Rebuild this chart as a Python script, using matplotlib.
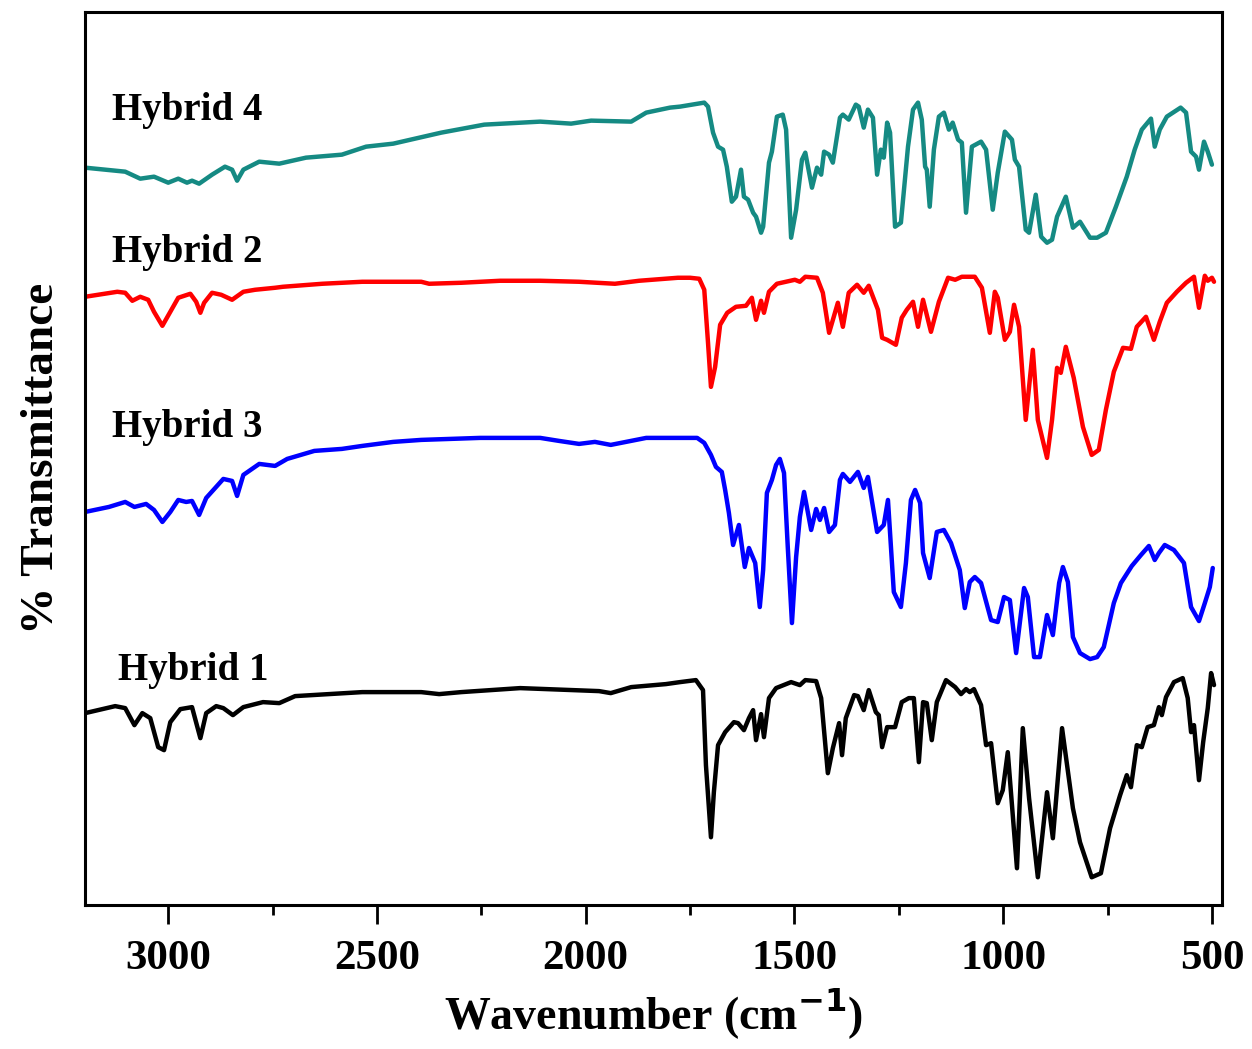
import matplotlib
matplotlib.use("Agg")
import matplotlib.pyplot as plt
from matplotlib.ticker import MultipleLocator

plt.rcParams['font.family'] = ['Liberation Serif', 'DejaVu Serif']
plt.rcParams['font.weight'] = 'bold'

# FTIR spectra, wavenumber (cm-1) vs transmittance (arbitrary units, curves stacked)
h4_wn = [3199, 3103, 3067, 3034, 3000, 2976, 2955, 2943, 2926, 2895, 2864, 2847, 2835, 2820,
         2782, 2734, 2670, 2584, 2526, 2461, 2346, 2243, 2109, 2035, 1987, 1891, 1855, 1798,
         1774, 1716, 1707, 1695, 1683, 1671, 1662, 1650, 1640, 1628, 1621, 1611, 1599, 1592,
         1580, 1575, 1561, 1554, 1542, 1528, 1520, 1508, 1496, 1482, 1474, 1458, 1446, 1436,
         1429, 1417, 1408, 1391, 1384, 1370, 1353, 1346, 1334, 1324, 1312, 1302, 1293, 1286,
         1278, 1271, 1259, 1245, 1228, 1216, 1204, 1195, 1187, 1183, 1176, 1166, 1154, 1142,
         1130, 1121, 1108, 1099, 1089, 1075, 1053, 1041, 1025, 1013, 996, 979, 972, 962, 946,
         938, 922, 909, 895, 883, 871, 850, 833, 816, 792, 775, 754, 730, 704, 685, 668, 646,
         637, 625, 608, 575, 562, 550, 538, 531, 519, 510, 500]
h4_t = [737, 733, 726, 728, 722, 726, 722, 724, 721, 730, 738, 735, 724, 735,
        743, 741, 747, 750, 758, 761, 772, 780, 783, 781, 784, 783, 792, 797,
        798, 802, 798, 772, 758, 755, 738, 703, 708, 735, 708, 705, 692, 688,
        672, 678, 742, 753, 788, 790, 775, 667, 695, 745, 752, 717, 737, 730,
        753, 750, 742, 787, 790, 785, 800, 798, 777, 795, 787, 730, 755, 747,
        782, 772, 678, 682, 758, 795, 802, 785, 738, 735, 698, 755, 788, 792,
        775, 782, 765, 762, 692, 758, 763, 755, 695, 732, 773, 765, 745, 738, 675,
        672, 710, 668, 662, 665, 688, 708, 677, 683, 667, 667, 672, 698, 728, 755, 775, 786,
        758, 775, 788, 797, 792, 753, 748, 735, 763, 753, 740]

h2_wn = [3199, 3122, 3103, 3086, 3067, 3048, 3034, 3014, 2995, 2976, 2947, 2933, 2923, 2914,
         2895, 2873, 2847, 2820, 2792, 2744, 2725, 2631, 2535, 2394, 2375, 2298, 2205, 2109,
         2016, 1930, 1872, 1779, 1750, 1728, 1716, 1707, 1700, 1690, 1678, 1661, 1640, 1616,
         1602, 1592, 1580, 1573, 1561, 1542, 1499, 1487, 1474, 1446, 1432, 1417, 1396, 1384,
         1370, 1350, 1334, 1322, 1300, 1290, 1278, 1257, 1243, 1231, 1216, 1204, 1192, 1173,
         1154, 1132, 1115, 1099, 1068, 1051, 1032, 1020, 1013, 996, 984, 974, 962, 946, 929,
         917, 895, 883, 871, 862, 850, 831, 809, 788, 771, 754, 735, 713, 694, 680, 658, 639,
         625, 608, 584, 562, 543, 531, 517, 510, 500, 495]
h2_t = [608, 613, 612, 604, 608, 605, 593, 579, 593, 607, 611, 603, 592, 602,
        612, 610, 605, 613, 615, 617, 618, 621, 623, 623, 621, 622, 624, 624,
        623, 621, 624, 627, 627, 626, 615, 562, 518, 538, 580, 592, 598, 599,
        607, 585, 604, 592, 613, 621, 625, 623, 628, 627, 612, 572, 602, 578,
        612, 620, 612, 619, 595, 567, 565, 560, 587, 595, 603, 578, 605, 573,
        603, 627, 625, 628, 628, 617, 572, 613, 607, 565, 573, 600, 578, 485, 555,
        485, 447, 485, 537, 532, 558, 527, 478, 450, 455, 495, 533, 557, 556, 578, 588, 565,
        583, 602, 613, 622, 628, 597, 629, 624, 627, 623]

h3_wn = [3199, 3142, 3103, 3081, 3053, 3034, 3014, 2995, 2976, 2957, 2943, 2926, 2909, 2868,
         2847, 2835, 2820, 2782, 2744, 2715, 2650, 2584, 2535, 2461, 2394, 2253, 2109, 2064,
         2016, 1978, 1940, 1855, 1779, 1733, 1716, 1700, 1688, 1674, 1666, 1657, 1647, 1633,
         1619, 1609, 1594, 1583, 1575, 1566, 1554, 1544, 1535, 1525, 1516, 1506, 1496, 1487,
         1477, 1460, 1448, 1439, 1429, 1417, 1403, 1391, 1384, 1367, 1348, 1334, 1324, 1312,
         1302, 1286, 1276, 1262, 1245, 1233, 1221, 1211, 1199, 1192, 1176, 1159, 1142, 1125,
         1104, 1092, 1080, 1068, 1053, 1029, 1013, 998, 984, 969, 950, 941, 926, 912, 895,
         881, 866, 857, 845, 833, 816, 792, 775, 759, 735, 718, 692, 670, 651, 637, 627, 613,
         591, 567, 550, 531, 517, 505, 498]
h3_t = [393, 398, 403, 398, 401, 395, 383, 393, 405, 403, 404, 390, 407, 426,
        424, 409, 430, 441, 439, 446, 454, 456, 459, 463, 465, 467, 467, 464,
        461, 463, 460, 467, 467, 467, 462, 450, 438, 433, 415, 392, 360, 380,
        338, 357, 342, 298, 335, 412, 425, 440, 446, 432, 358, 282, 348, 388,
        413, 375, 396, 385, 397, 373, 380, 425, 431, 423, 433, 417, 428, 398,
        373, 380, 405, 313, 298, 342, 405, 415, 402, 352, 327, 373, 375, 362,
        335, 297, 323, 328, 322, 285, 283, 308, 305, 252, 317, 308, 248, 248, 290,
        270, 322, 338, 323, 268, 252, 246, 248, 258, 302, 322, 339, 350, 359, 345, 352, 360,
        355, 342, 298, 284, 302, 318, 337]

h1_wn = [3199, 3127, 3103, 3081, 3062, 3043, 3024, 3010, 2995, 2971, 2943, 2923, 2909, 2885,
         2868, 2845, 2820, 2773, 2734, 2696, 2535, 2394, 2351, 2298, 2157, 1968, 1940, 1891,
         1808, 1774, 1755, 1736, 1719, 1712, 1700, 1693, 1683, 1666, 1645, 1635, 1621, 1609,
         1599, 1592, 1580, 1573, 1561, 1544, 1508, 1487, 1474, 1448, 1436, 1420, 1408, 1393,
         1386, 1377, 1357, 1348, 1334, 1322, 1305, 1298, 1290, 1278, 1259, 1243, 1226, 1214,
         1202, 1192, 1183, 1171, 1159, 1137, 1115, 1101, 1089, 1080, 1070, 1053, 1041, 1029,
         1013, 1001, 989, 967, 953, 938, 917, 895, 881, 871, 859, 833, 816, 788, 766, 744,
         720, 704, 694, 680, 668, 654, 639, 627, 620, 610, 591, 570, 558, 550, 543, 531, 521,
         510, 502, 495]
h1_t = [192, 199, 197, 180, 192, 187, 158, 155, 183, 196, 198, 167, 192, 199,
        197, 190, 198, 203, 202, 209, 213, 213, 211, 213, 217, 214, 212, 218,
        221, 223, 224, 225, 215, 140, 68, 113, 160, 173, 183, 182, 175, 187,
        195, 165, 191, 168, 207, 217, 223, 220, 225, 224, 207, 132, 157, 182,
        150, 187, 210, 209, 195, 215, 193, 190, 158, 178, 178, 203, 207, 207,
        143, 203, 202, 165, 203, 225, 218, 211, 216, 213, 216, 200, 160, 162,
        102, 115, 153, 37, 177, 107, 28, 113, 67, 117, 177, 97, 63, 28, 32, 77,
        110, 130, 118, 160, 158, 178, 180, 198, 190, 208, 223, 227, 207, 173, 180, 125, 163,
        197, 232, 220]

names = ['Hybrid 4', 'Hybrid 2', 'Hybrid 3', 'Hybrid 1']
colors = ['#158a83', '#ff0000', '#0000ff', '#000000']
spectra = [(h4_wn, h4_t), (h2_wn, h2_t), (h3_wn, h3_t), (h1_wn, h1_t)]

fig = plt.figure(figsize=(12.52, 10.49), dpi=100)
ax = fig.add_axes([0.068, 0.137, 0.908, 0.852])

for (wn, t), c in zip(spectra, colors):
    ax.plot(wn, t, color=c, lw=3.2, solid_joinstyle='round', solid_capstyle='round')

# curve labels
label_pos = [(3134, 785), (3134, 643), (3134, 468), (3120, 225)]
for name, (x, y) in zip(names, label_pos):
    ax.text(x, y, name, fontsize=28, fontweight='bold', ha='left', va='baseline')

ax.set_xlim(3199, 476)
ax.set_ylim(0, 893)
ax.xaxis.set_major_locator(MultipleLocator(500))
ax.xaxis.set_minor_locator(MultipleLocator(250))
ax.tick_params(axis='x', which='major', direction='out', length=14, width=2,
               labelsize=31, pad=11, top=False)
ax.tick_params(axis='x', which='minor', direction='out', length=7, width=2, top=False)
ax.set_yticks([])
for s in ax.spines.values():
    s.set_linewidth(2.2)
for lab in ax.get_xticklabels():
    lab.set_fontweight('bold')

ax.set_xlabel('Wavenumber (cm$^{\\mathbf{-1}}$)', fontsize=33, fontweight='bold', labelpad=6)
ax.set_ylabel('% Transmittance', fontsize=34, fontweight='bold', labelpad=16)

fig.savefig('out.png', dpi=100)
